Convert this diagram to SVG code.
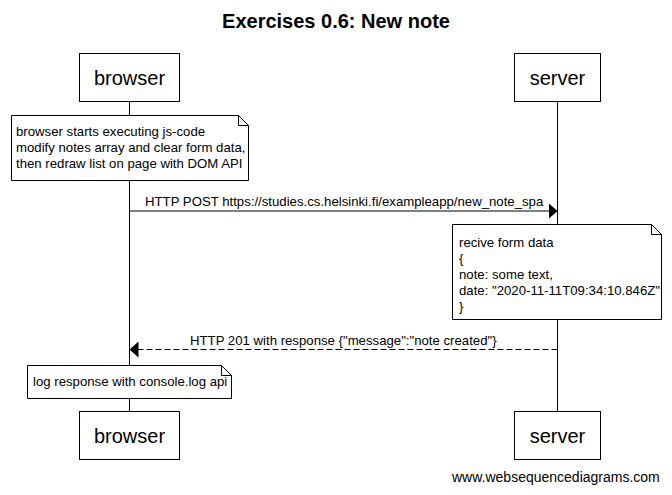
<svg xmlns="http://www.w3.org/2000/svg" width="672" height="495" viewBox="0 0 672 495">
<style>
text{font-family:"Liberation Sans",Arial,sans-serif;fill:#000}
.title{font-size:20px;font-weight:bold}
.actor rect{fill:#fff;stroke:#000;stroke-width:1}
.actor text{font-size:20px}
.note path{fill:#fff;stroke:#000;stroke-width:1}
.note text{font-size:13.2px}
.life{stroke:#000;stroke-width:1}
.msg{stroke:#000;stroke-width:1;fill:none}
.dash{stroke-dasharray:6,3}
.lbl{font-size:13.2px}
.foot{font-size:14px}
</style>
<defs>
<marker id="ah" markerWidth="10" markerHeight="16" refX="9" refY="8" orient="auto" markerUnits="userSpaceOnUse">
<path d="M0,0 L9,8 L0,16 Z" fill="#000"/>
</marker>
</defs>
<rect width="672" height="495" fill="#fff"/>
<text class="title" x="336" y="28" text-anchor="middle">Exercises 0.6: New note</text>
<g id="lifelines">
<line class="life" x1="129.5" y1="101.5" x2="129.5" y2="411"/>
<line class="life" x1="557.5" y1="101.5" x2="557.5" y2="411"/>
</g>
<g id="connectors">
<line class="msg" x1="129.5" y1="211" x2="557.5" y2="211" marker-end="url(#ah)"/>
<text class="lbl" x="145" y="206">HTTP POST https://studies.cs.helsinki.fi/exampleapp/new_note_spa</text>
<line class="msg dash" x1="557.5" y1="349.5" x2="129.5" y2="349.5" marker-end="url(#ah)"/>
<text class="lbl" x="190" y="345">HTTP 201 with response {"message":"note created"}</text>
</g>
<g id="browser-top" class="actor">
<rect x="79.5" y="53.5" width="100" height="48"/>
<text x="129.5" y="85" text-anchor="middle">browser</text>
</g>
<g id="server-top" class="actor">
<rect x="514.5" y="53.5" width="86" height="48"/>
<text x="557.5" y="85" text-anchor="middle">server</text>
</g>
<g id="note-browser" class="note">
<path d="M11.5,115.5 H238.5 L248.5,125.5 V180.5 H11.5 Z M238.5,115.5 V125.5 H248.5"/>
<text x="16" y="136">browser starts executing js-code</text>
<text x="16" y="152">modify notes array and clear form data,</text>
<text x="16" y="168">then redraw list on page with DOM API</text>
</g>
<g id="note-server" class="note">
<path d="M452.5,224.5 H651.5 L661.5,234.5 V319.5 H452.5 Z M651.5,224.5 V234.5 H661.5"/>
<text x="459" y="247">recive form data</text>
<text x="459" y="263">{</text>
<text x="459" y="279">note: some text,</text>
<text x="459" y="295">date: "2020-11-11T09:34:10.846Z"</text>
<text x="459" y="311">}</text>
</g>
<g id="note-log" class="note">
<path d="M27.5,365.5 H221.5 L231.5,375.5 V398.5 H27.5 Z M221.5,365.5 V375.5 H231.5"/>
<text x="33" y="386">log response with console.log api</text>
</g>
<g id="browser-bottom" class="actor">
<rect x="79.5" y="411.5" width="100" height="48"/>
<text x="129.5" y="443" text-anchor="middle">browser</text>
</g>
<g id="server-bottom" class="actor">
<rect x="514.5" y="411.5" width="86" height="48"/>
<text x="557.5" y="443" text-anchor="middle">server</text>
</g>
<text class="foot" x="452" y="482">www.websequencediagrams.com</text>
</svg>
